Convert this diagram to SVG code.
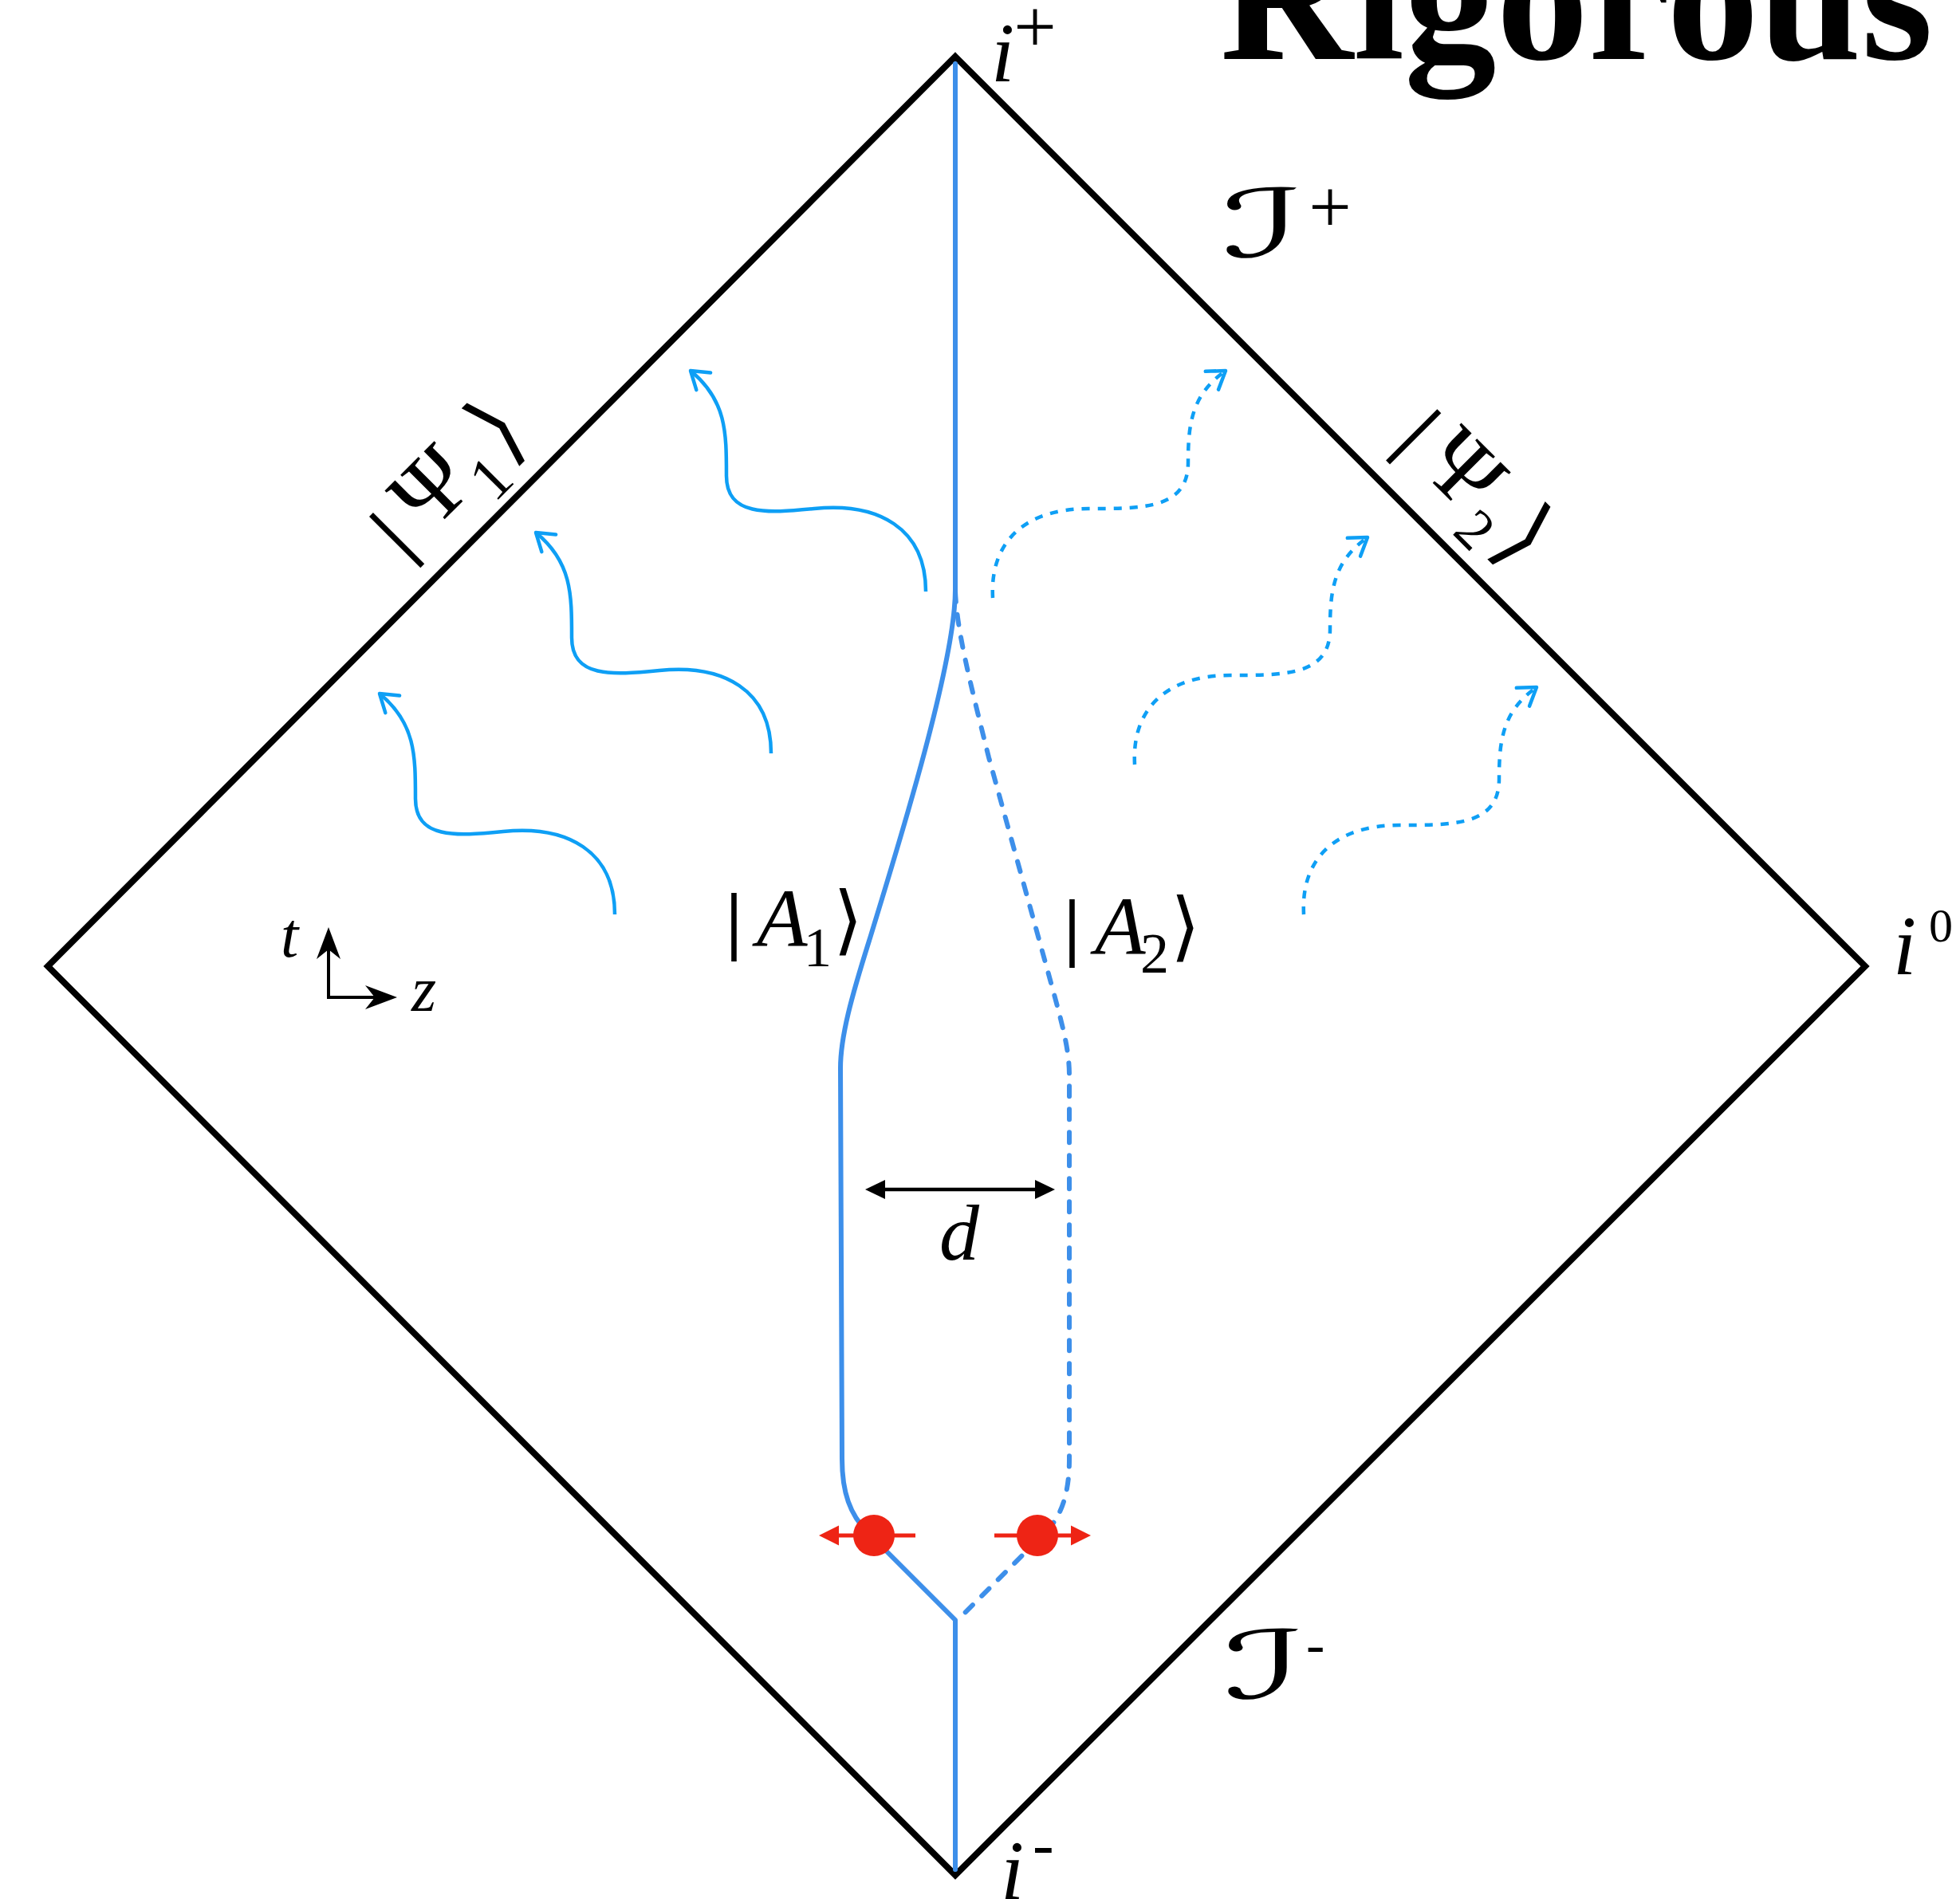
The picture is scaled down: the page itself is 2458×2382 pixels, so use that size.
<svg xmlns="http://www.w3.org/2000/svg" width="2458" height="2382" viewBox="0 0 2458 2382">
<defs>
<style>
.edge{fill:none;stroke:#000;stroke-width:8;stroke-linejoin:miter;stroke-miterlimit:10}
.wl{fill:none;stroke:#3d8fea;stroke-width:6;stroke-linecap:round;stroke-linejoin:round}
.dash{stroke-dasharray:13 16}
.ph{fill:none;stroke:#0e9ff5;stroke-width:4.5;marker-end:url(#open)}
.dot{stroke-dasharray:10 10}
.m{font-family:"Liberation Serif","DejaVu Serif",serif;fill:#000}
.it{font-style:italic}
.bar{font-weight:bold}
.br{font-family:"DejaVu Sans","DejaVu Serif",sans-serif;fill:#000}
.scr{font-family:"DejaVu Serif","DejaVu Sans",serif;font-style:italic;fill:#000}
.red{fill:#ee2415}
.redl{stroke:#ee2415;stroke-width:5;fill:none;marker-end:url(#redtri)}
.blk{stroke:#000;stroke-width:4.5;fill:none}
</style>
<marker id="open" markerUnits="userSpaceOnUse" markerWidth="40" markerHeight="40" refX="0" refY="0" orient="auto" overflow="visible"><path d="M-21,-14 L0,0 L-21,14" fill="none" stroke="#0e9ff5" stroke-width="4.5" stroke-linecap="round" stroke-linejoin="round"/></marker>
<marker id="tri" markerUnits="userSpaceOnUse" markerWidth="40" markerHeight="40" refX="0" refY="0" orient="auto-start-reverse" overflow="visible"><path d="M12,0 L-13,-12 L-13,12 Z" fill="#000"/></marker>
<marker id="redtri" markerUnits="userSpaceOnUse" markerWidth="40" markerHeight="40" refX="0" refY="0" orient="auto" overflow="visible"><path d="M12,0 L-13,-12.5 L-13,12.5 Z" fill="#ee2415"/></marker>
<marker id="stealth" markerUnits="userSpaceOnUse" markerWidth="50" markerHeight="50" refX="0" refY="0" orient="auto-start-reverse" overflow="visible"><path d="M12,0 L-28,-15 L-16,0 L-28,15 Z" fill="#000"/></marker>
</defs>
<rect width="2458" height="2382" fill="#fff"/>

<text id="title" class="m" x="1530" y="74" font-size="231" font-weight="bold">Rigorous</text>

<g id="diagram-boundary">
<path class="edge" d="M1198,71 L2339,1212 L1198,2352 L60,1212 Z"/>
</g>

<g id="connectors">
<g id="worldline-A1">
<path class="wl" d="M1198,80 L1198,740 C1198,830 1130,1050 1090,1180 C1068,1250 1054,1300 1054,1340 L1056,1830 C1056,1872 1066,1900 1088,1922 L1198,2032 L1198,2345"/>
</g>
<g id="worldline-A2">
<path class="wl dash" d="M1198,742 C1200,790 1215,850 1240,950 L1320,1240 C1335,1295 1341,1320 1341,1350 L1341,1830 C1341,1872 1332,1900 1313,1920 L1200,2033"/>
</g>
<g id="photons-left">
<path class="ph" transform="translate(1161,742)" d="M0,0 C0,-80 -60,-112 -140,-104 C-200,-98 -250,-95 -250,-145 C-250,-200 -250,-240 -295,-277"/>
<path class="ph" transform="translate(967,945)" d="M0,0 C0,-80 -60,-112 -140,-104 C-200,-98 -250,-95 -250,-145 C-250,-200 -250,-240 -295,-277"/>
<path class="ph" transform="translate(771,1147)" d="M0,0 C0,-80 -60,-112 -140,-104 C-200,-98 -250,-95 -250,-145 C-250,-200 -250,-240 -295,-277"/>
</g>
<g id="photons-right">
<path class="ph dot" transform="translate(1245,750)" d="M0,0 C-4,-70 40,-112 120,-112 C190,-112 245,-112 245,-170 C245,-220 250,-255 292,-285"/>
<path class="ph dot" transform="translate(1423,959)" d="M0,0 C-4,-70 40,-112 120,-112 C190,-112 245,-112 245,-170 C245,-220 250,-255 292,-285"/>
<path class="ph dot" transform="translate(1635,1147)" d="M0,0 C-4,-70 40,-112 120,-112 C190,-112 245,-112 245,-170 C245,-220 250,-255 292,-285"/>
</g>
<g id="separation-d">
<path class="blk" d="M1097,1492 L1311,1492" marker-start="url(#tri)" marker-end="url(#tri)"/>
</g>
<g id="axes">
<path fill="none" stroke="#000" stroke-width="4" d="M412,1175 L412,1251 L486,1251" marker-start="url(#stealth)" marker-end="url(#stealth)"/>
</g>
<g id="red-arrows">
<path class="redl" d="M1148,1926 L1039,1926"/>
<path class="redl" d="M1247,1926 L1356,1926"/>
</g>
</g>

<g id="particle-left"><circle class="red" cx="1096" cy="1926" r="26"/></g>
<g id="particle-right"><circle class="red" cx="1301" cy="1926" r="26"/></g>

<g id="label-iplus"><text class="m it" x="1243" y="102" font-size="105">i</text><text class="m" x="1298" y="65" font-size="95" text-anchor="middle">+</text></g>
<g id="label-i0"><text class="m it" x="2374" y="1222" font-size="105">i</text><text class="m" x="2419" y="1181" font-size="60">0</text></g>
<g id="label-iminus"><text class="m it" x="1255" y="2382" font-size="105">i</text><text class="m" x="1295" y="2340" font-size="80">-</text></g>
<g id="label-scri-plus"><text class="scr" transform="translate(1532,322) scale(1.85,1)" x="0" y="0" font-size="118">ℐ</text><text class="m" x="1668" y="291" font-size="95" text-anchor="middle">+</text></g>
<g id="label-scri-minus"><text class="scr" transform="translate(1534,2130) scale(1.85,1)" x="0" y="0" font-size="118">ℐ</text><text class="m" x="1638" y="2086" font-size="70">-</text></g>

<g id="label-A1"><text class="m bar" x="910" y="1186" font-size="95">|</text><text class="m it" x="949" y="1187" font-size="104">A</text><text class="m" x="1008" y="1212" font-size="70">1</text><text class="br" x="1045" y="1186" font-size="95">⟩</text></g>
<g id="label-A2"><text class="m bar" x="1334" y="1194" font-size="95">|</text><text class="m it" x="1373" y="1197" font-size="104">A</text><text class="m" x="1430" y="1220" font-size="72">2</text><text class="br" x="1468" y="1194" font-size="95">⟩</text></g>
<g id="label-d"><text class="m it" x="1203" y="1580" font-size="100" text-anchor="middle">d</text></g>
<g id="label-t"><text class="m it" x="352" y="1200" font-size="80">t</text></g>
<g id="label-z"><text class="m it" x="516" y="1268" font-size="80">z</text></g>

<g id="label-psi1" transform="translate(569,640) rotate(-45)"><text class="m bar" x="-88" y="0" font-size="100">|</text><text class="m" x="0" y="0" font-size="120" text-anchor="middle">Ψ</text><text class="m" x="42" y="30" font-size="78">1</text><text class="br" x="88" y="4" font-size="115">⟩</text></g>
<g id="label-psi2" transform="translate(1808,617) rotate(45)"><text class="m bar" x="-85" y="0" font-size="100">|</text><text class="m" x="0" y="0" font-size="120" text-anchor="middle">Ψ</text><text class="m" x="45" y="28" font-size="72">2</text><text class="br" x="91" y="4" font-size="115">⟩</text></g>
</svg>
